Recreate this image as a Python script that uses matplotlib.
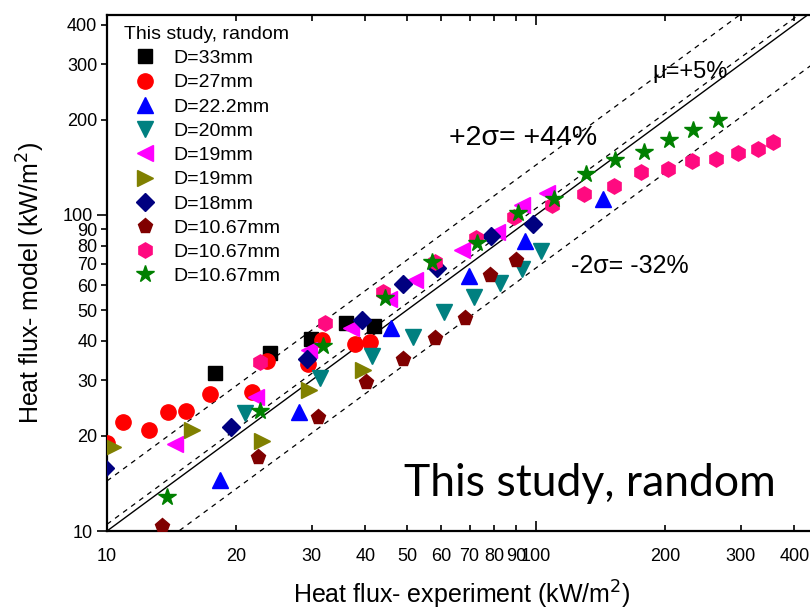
import numpy as np
import matplotlib
matplotlib.use('Agg')
import matplotlib.pyplot as plt
from matplotlib.ticker import FixedLocator, FixedFormatter

plt.rcParams['font.family'] = ['Liberation Sans', 'DejaVu Sans']

# experimental vs model heat flux (kW/m2), one pair of lists per data set
x_33 = [17.9, 24.0, 29.9, 36.1, 41.9]
y_33 = [31.6, 36.6, 40.5, 45.5, 44.5]

x_27 = [10.0, 10.9, 12.5, 13.9, 15.3, 17.4, 21.8, 23.6, 29.4, 31.7, 37.9, 41.0]
y_27 = [19.0, 22.1, 20.9, 23.8, 23.9, 27.1, 27.5, 34.5, 33.8, 40.2, 39.1, 39.5]

x_222 = [18.3, 28.0, 45.9, 69.7, 94.1, 143.5]
y_222 = [14.5, 23.8, 43.8, 64.1, 82.9, 112.4]

x_20 = [21.0, 31.3, 41.4, 51.6, 61.1, 71.7, 82.5, 92.6, 102.7]
y_20 = [23.6, 30.6, 35.9, 41.2, 49.2, 54.9, 61.1, 67.3, 77.1]

x_19a = [14.4, 22.3, 29.6, 37.1, 45.4, 52.3, 67.1, 81.0, 92.6, 105.9]
y_19a = [18.8, 26.5, 37.5, 43.8, 54.4, 62.3, 77.2, 88.6, 107.6, 117.8]

x_19b = [10.3, 15.8, 23.0, 29.6, 39.6]
y_19b = [18.5, 20.9, 19.2, 27.9, 32.3]

x_18 = [9.9, 19.5, 29.2, 39.2, 49.0, 58.7, 78.4, 98.4]
y_18 = [15.8, 21.3, 35.1, 46.5, 60.5, 68.2, 85.8, 93.7]

x_1067a = [13.4, 22.5, 31.1, 40.2, 48.9, 58.2, 68.3, 78.1, 89.7]
y_1067a = [10.4, 17.2, 23.0, 29.7, 35.1, 40.8, 47.2, 64.6, 71.8]

x_1067b = [22.7, 32.2, 44.1, 58.2, 72.5, 88.9, 108.7, 129.6, 152.0, 175.4,
           203.1, 231.3, 263.3, 294.9, 329.3, 355.9]
y_1067b = [34.3, 45.6, 57.2, 71.2, 84.3, 98.2, 107.2, 116.4, 123.3, 136.3,
           139.8, 148.2, 150.1, 157.5, 161.2, 169.9]

x_1067c = [13.8, 22.7, 31.8, 44.5, 57.1, 73.0, 90.9, 110.2, 130.6, 152.6,
           178.1, 203.7, 232.0, 265.2]
y_1067c = [12.8, 24.0, 38.6, 54.5, 71.2, 81.4, 101.2, 112.0, 134.8, 149.3,
           158.8, 172.5, 186.1, 199.5]

labels = ['D=33mm', 'D=27mm', 'D=22.2mm', 'D=20mm', 'D=19mm', 'D=19mm',
          'D=18mm', 'D=10.67mm', 'D=10.67mm', 'D=10.67mm']

# band lines: y = factor * x
mean_bias = 1.05
plus_2sigma = 1.44
minus_2sigma = 0.68

tick_vals = [10, 20, 30, 40, 50, 60, 70, 80, 90, 100, 200, 300, 400]
tick_labels = [str(v) for v in tick_vals]

xlim = (10, 450)
ylim = (10, 430)

series = [
    (x_33, y_33, 's', 'black', 10),
    (x_27, y_27, 'o', 'red', 11),
    (x_222, y_222, '^', 'blue', 11),
    (x_20, y_20, 'v', '#008080', 11),
    (x_19a, y_19a, '<', 'magenta', 11),
    (x_19b, y_19b, '>', '#808000', 11),
    (x_18, y_18, 'D', '#000080', 9.5),
    (x_1067a, y_1067a, 'p', '#800000', 11),
    (x_1067b, y_1067b, 'h', '#FF0a80', 11),
    (x_1067c, y_1067c, '*', 'green', 13),
]

fig = plt.figure(figsize=(8.10, 6.11), dpi=100)
ax = fig.add_axes([107/810, 80/611, 709.3/810, 516.2/611])
ax.set_xscale('log')
ax.set_yscale('log')

xx = np.array(xlim)
ax.plot(xx, xx, c='k', lw=1.0, zorder=1)
ax.plot(xx, mean_bias*xx, c='k', lw=0.9, ls=(0, (4, 4)), zorder=1)
ax.plot(xx, plus_2sigma*xx, c='k', lw=0.9, ls=(0, (4, 4)), zorder=1)
ax.plot(xx, minus_2sigma*xx, c='k', lw=0.9, ls=(0, (4, 4)), zorder=1)

for (xs, ys, m, c, ms), lab in zip(series, labels):
    ax.plot(xs, ys, ls='none', marker=m, color=c, ms=ms, mec=c, label=lab, zorder=3)

ax.set_xlim(*xlim)
ax.set_ylim(*ylim)

for axis in (ax.xaxis, ax.yaxis):
    axis.set_major_locator(FixedLocator([10, 100]))
    axis.set_minor_locator(FixedLocator([v for v in tick_vals if v not in (10, 100)]))
    axis.set_major_formatter(FixedFormatter(['10', '100']))
    axis.set_minor_formatter(FixedFormatter([t for t in tick_labels if t not in ('10', '100')]))

ax.tick_params(axis='x', which='both', direction='in', top=True, bottom=True, labelsize=13, pad=12)
ax.tick_params(axis='y', which='both', direction='out', left=True, right=False, labelsize=13, pad=3)
ax.tick_params(which='major', length=7, width=1.2)
ax.tick_params(which='minor', length=4, width=1.2)
for s in ax.spines.values():
    s.set_linewidth(1.6)

ax.set_xlabel('Heat flux- experiment (kW/m$^2$)', fontsize=18, labelpad=10)
ax.set_ylabel('Heat flux- model (kW/m$^2$)', fontsize=18, labelpad=6)
ax.yaxis.set_label_coords(-0.084, 0.48)

leg = ax.legend(loc='upper left', bbox_to_anchor=(124/810, 1-26/611), bbox_transform=fig.transFigure,
                frameon=False, title='This study, random', fontsize=14, title_fontsize=14,
                alignment='left', handlelength=2.2, handletextpad=0.32, labelspacing=0.34,
                borderpad=0, borderaxespad=0)

fig.text(690/810, 1-72/611, 'μ=+5%', fontsize=17, ha='center', va='center')
fig.text(523/810, 1-138/611, '+2σ= +44%', fontsize=20.5, ha='center', va='center')
fig.text(630/810, 1-266/611, '-2σ= -32%', fontsize=18, ha='center', va='center')
fig.text(590/810, 1-483/611, 'This study, random', fontsize=32, ha='center', va='center',
         family=['Lato', 'DejaVu Sans'])

plt.savefig('out.png', dpi=100)
